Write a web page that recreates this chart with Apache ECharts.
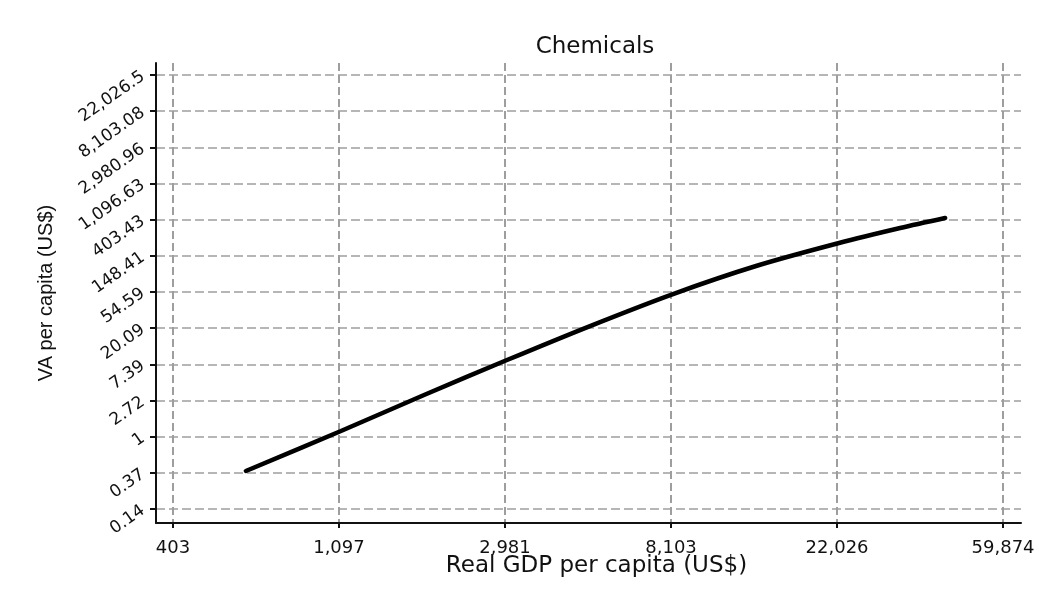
<!DOCTYPE html>
<html>
<head>
<meta charset="utf-8">
<script src="https://cdn.jsdelivr.net/npm/echarts@6/dist/echarts.min.js"></script>
<style>
html,body{margin:0;padding:0;background:#fff;}
#chart{width:1039px;height:594px;}
</style>
</head>
<body>
<div id="chart"></div>
<script>
// Real GDP per capita (US$) and VA per capita (US$)
const gdpPerCapita = [626, 1110, 1831, 3017, 4975, 8201, 13523, 22292, 32210, 42240];
const vaPerCapita  = [0.387, 1.169, 3.164, 8.32, 21.3, 51.6, 112.0, 211.5, 320, 422];

// tick positions are natural-log exponents
const xTickExp = [6, 7, 8, 9, 10, 11];
const xTickLabels = ['403', '1,097', '2,981', '8,103', '22,026', '59,874'];
const yTickExp = [-2, -1, 0, 1, 2, 3, 4, 5, 6, 7, 8, 9, 10];
const yTickLabels = ['0.14', '0.37', '1', '2.72', '7.39', '20.09', '54.59', '148.41',
                     '403.43', '1,096.63', '2,980.96', '8,103.08', '22,026.5'];

const seriesData = gdpPerCapita.map((g, i) => [Math.log(g), Math.log(vaPerCapita[i])]);

const chart = echarts.init(document.getElementById('chart'));
const font = 'DejaVu Sans';
chart.setOption({
  backgroundColor: '#ffffff',
  animation: false,
  title: {
    text: 'Chemicals',
    left: 590,
    textAlign: 'center',
    top: 31,
    textStyle: {fontFamily: font, fontSize: 23, fontWeight: 'normal', color: '#111'}
  },
  grid: {left: 156, right: 18, top: 63, bottom: 71, containLabel: false},
  xAxis: {
    type: 'value',
    min: 5.898,
    max: 11.108,
    name: 'Real GDP per capita (US$)',
    nameLocation: 'middle',
    nameGap: 32,
    nameMoveOverlap: false,
    nameTextStyle: {fontFamily: font, fontSize: 23, color: '#111', padding: [0, 0, 0, 16]},
    axisLine: {show: true, onZero: false, lineStyle: {color: '#111', width: 2}},
    axisTick: {show: true, length: 5, customValues: xTickExp, lineStyle: {color: '#111', width: 2}},
    axisLabel: {
      customValues: xTickExp,
      margin: 16,
      fontFamily: font, fontSize: 18, color: '#111',
      formatter: v => xTickLabels[Math.round(v) - 6]
    },
    splitLine: {show: true, lineStyle: {color: '#9e9e9e', width: 2, type: [8, 4]}}
  },
  yAxis: {
    type: 'value',
    min: -2.387,
    max: 10.332,
    name: 'VA per capita (US$)',
    nameLocation: 'middle',
    nameGap: 100,
    nameMoveOverlap: false,
    nameRotate: 90,
    nameTextStyle: {fontFamily: 'Liberation Sans', fontSize: 20, color: '#111'},
    axisLine: {show: true, onZero: false, lineStyle: {color: '#111', width: 2}},
    axisTick: {show: true, length: 6, customValues: yTickExp, lineStyle: {color: '#111', width: 2}},
    axisLabel: {
      customValues: yTickExp,
      rotate: 35,
      margin: 13,
      fontFamily: font, fontSize: 17, color: '#111',
      formatter: v => yTickLabels[Math.round(v) + 2]
    },
    splitLine: {show: true, lineStyle: {color: '#9e9e9e', width: 1.5, type: [9, 4]}}
  },
  series: [{
    type: 'line',
    data: seriesData,
    showSymbol: false,
    smooth: 0.3,
    lineStyle: {color: '#000', width: 4.5, cap: 'round'}
  }]
});
</script>
</body>
</html>
